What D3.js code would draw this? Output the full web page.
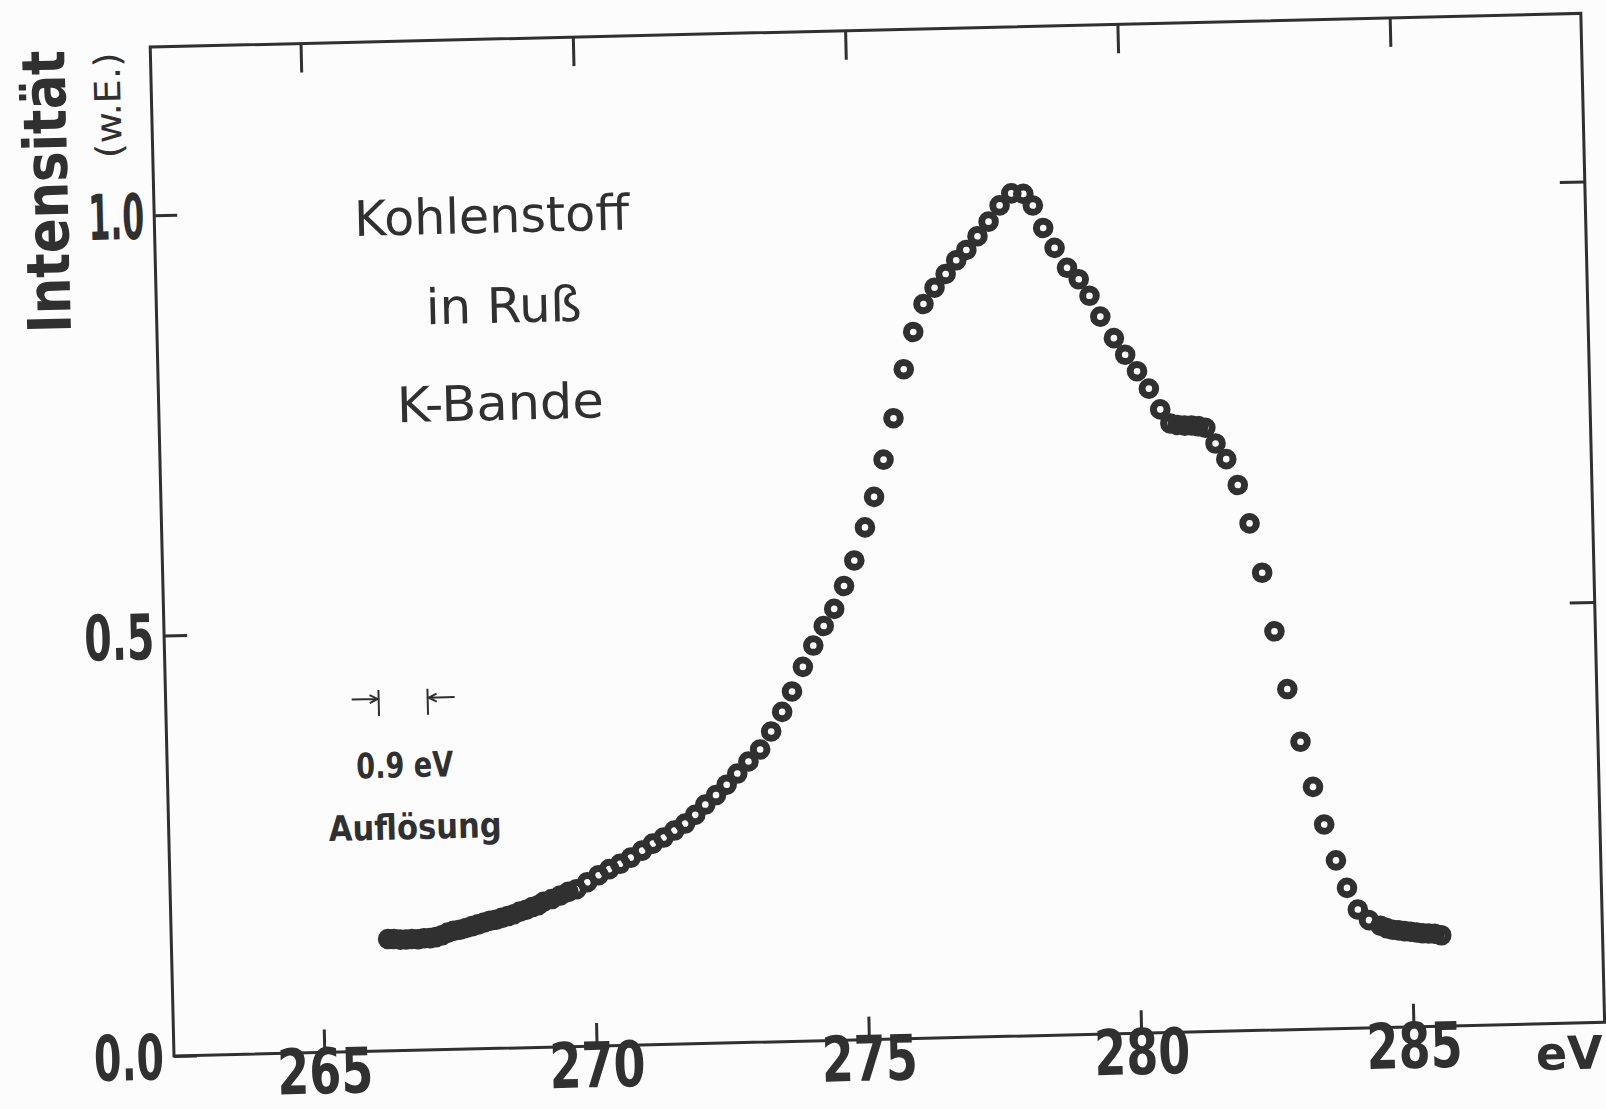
<!DOCTYPE html>
<html>
<head>
<meta charset="utf-8">
<script src="https://cdn.jsdelivr.net/npm/d3@7"></script>
<style>
  html, body { margin: 0; padding: 0; background: #fcfcfc; }
  svg { display: block; }
  .num   { font-family: "Liberation Sans Narrow", "DejaVu Sans Condensed", "DejaVu Sans", sans-serif; font-weight: bold; font-size: 63px; fill: #303030; }
  .title { font-family: "DejaVu Sans", sans-serif; font-weight: bold; font-size: 60px; fill: #303030; }
  .unit  { font-family: "DejaVu Sans", sans-serif; font-size: 36px; fill: #303030; }
  .note  { font-family: "DejaVu Sans", sans-serif; font-size: 49px; fill: #303030; }
  .res   { font-family: "Liberation Sans Narrow", "DejaVu Sans Condensed", "DejaVu Sans", sans-serif; font-weight: bold; font-size: 35px; fill: #303030; }
</style>
</head>
<body>
<svg id="chart" width="1606" height="1109"></svg>
<script>
// Carbon K emission band of soot: photon energy (eV) and relative intensity
const energy = [
  266.22, 266.33, 266.44, 266.55, 266.66, 266.77, 266.88, 266.99, 267.10, 267.21,
  267.32, 267.43, 267.54, 267.66, 267.77, 267.88, 267.99, 268.10, 268.21, 268.32,
  268.43, 268.54, 268.65, 268.77, 268.88, 268.99, 269.09, 269.24, 269.40, 269.55,
  269.70, 269.90, 270.11, 270.31, 270.51, 270.71, 270.92, 271.12, 271.32, 271.52,
  271.72, 271.91, 272.10, 272.30, 272.50, 272.70, 272.91, 273.13, 273.34, 273.55,
  273.74, 273.95, 274.15, 274.35, 274.55, 274.74, 274.94, 275.15, 275.33, 275.52,
  275.72, 275.93, 276.12, 276.32, 276.53, 276.74, 276.94, 277.13, 277.34, 277.55,
  277.76, 277.98, 278.20, 278.37, 278.55, 278.75, 278.97, 279.18, 279.37, 279.56,
  279.80, 280.00, 280.21, 280.42, 280.62, 280.80, 280.93, 281.06, 281.19, 281.31,
  281.44, 281.62, 281.81, 282.01, 282.21, 282.42, 282.62, 282.83, 283.05, 283.26,
  283.45, 283.65, 283.84, 284.03, 284.23, 284.44, 284.55, 284.66, 284.77, 284.88,
  284.99, 285.10, 285.21, 285.32, 285.43, 285.55
];
const intensity = [
  0.133, 0.133, 0.132, 0.132, 0.1325, 0.132, 0.133, 0.133, 0.134, 0.136,
  0.139, 0.141, 0.142, 0.144, 0.146, 0.148, 0.150, 0.152, 0.153, 0.155,
  0.157, 0.159, 0.162, 0.164, 0.167, 0.169, 0.173, 0.176, 0.180, 0.184,
  0.187, 0.195, 0.203, 0.210, 0.216, 0.223, 0.231, 0.239, 0.246, 0.254,
  0.262, 0.272, 0.284, 0.295, 0.307, 0.320, 0.334, 0.348, 0.369, 0.392,
  0.416, 0.445, 0.470, 0.493, 0.513, 0.540, 0.570, 0.609, 0.645, 0.689,
  0.738, 0.796, 0.840, 0.873, 0.892, 0.908, 0.924, 0.936, 0.952, 0.969,
  0.988, 1.002, 1.001, 0.987, 0.960, 0.936, 0.912, 0.898, 0.878, 0.853,
  0.827, 0.807, 0.787, 0.766, 0.741, 0.724, 0.722, 0.721, 0.721, 0.720,
  0.718, 0.699, 0.680, 0.649, 0.603, 0.544, 0.474, 0.405, 0.342, 0.288,
  0.243, 0.200, 0.167, 0.141, 0.128, 0.121, 0.118, 0.116, 0.115, 0.114,
  0.113, 0.112, 0.111, 0.1105, 0.110, 0.108
];
const xTicks = [265, 270, 275, 280, 285];
const yLabelTicks = [0.0, 0.5, 1.0];
const yMarkTicks = [0.5, 1.0];
const noteLines = ["Kohlenstoff", "in Ruß", "K-Bande"];
const resolutionEV = 0.9;
const resolutionStart = 266.15;
const resolutionLevel = 0.414;

const ink = "#303030";

const x = d3.scaleLinear().domain([262.24, 288.51]).range([174, 1605]);
const y = d3.scaleLinear().domain([0, 1.2]).range([1056, 46.8]);

const svg = d3.select("#chart");
// whole drawing sits slightly tilted on the sheet
const g = svg.append("g").attr("transform", "rotate(-1.35,174,1056)");

// frame
g.append("rect")
  .attr("x", x.range()[0]).attr("y", y(1.2))
  .attr("width", x.range()[1] - x.range()[0])
  .attr("height", y(0) - y(1.2))
  .attr("fill", "none").attr("stroke", ink).attr("stroke-width", 3);

function styleAxis(sel) {
  sel.select(".domain").remove();
  sel.attr("font-size", null).attr("font-family", null);
  sel.selectAll(".tick line").attr("stroke", ink).attr("stroke-width", 3);
}

// bottom axis: inward ticks + energy labels
const gx = g.append("g")
  .attr("transform", `translate(0,${y(0)})`)
  .call(d3.axisBottom(x).tickValues(xTicks).tickSize(-23).tickFormat(d3.format("d")));
styleAxis(gx);
gx.selectAll(".tick text")
  .attr("class", "num").attr("y", 41).attr("dy", null)
  .attr("textLength", 96).attr("lengthAdjust", "spacingAndGlyphs");

// top axis: inward ticks only
const gxt = g.append("g")
  .attr("transform", `translate(0,${y(1.2)})`)
  .call(d3.axisTop(x).tickValues(xTicks).tickSize(-29).tickFormat(""));
styleAxis(gxt);

// left axis: inward ticks + intensity labels
const gy = g.append("g")
  .attr("transform", `translate(${x.range()[0]},0)`)
  .call(d3.axisLeft(y).tickValues(yLabelTicks).tickSize(-23).tickPadding(10).tickFormat(d3.format(".1f")));
styleAxis(gy);
gy.selectAll(".tick text")
  .attr("class", "num").attr("dy", "0.36em")
  .attr("textLength", d => d === 1 ? 56 : 70).attr("lengthAdjust", "spacingAndGlyphs");

// right axis: inward ticks only
const gyr = g.append("g")
  .attr("transform", `translate(${x.range()[1]},0)`)
  .call(d3.axisRight(y).tickValues(yMarkTicks).tickSize(-25).tickFormat(""));
styleAxis(gyr);

// axis titles
g.append("text").attr("class", "num")
  .attr("x", 1569).attr("y", 1102).attr("text-anchor", "middle")
  .style("font-size", "46px")
  .attr("textLength", 67).attr("lengthAdjust", "spacingAndGlyphs")
  .text("eV");

g.append("text").attr("class", "title")
  .attr("transform", "translate(88,189.1) rotate(-90)")
  .attr("text-anchor", "middle")
  .attr("textLength", 283).attr("lengthAdjust", "spacingAndGlyphs")
  .text("Intensität");

g.append("text").attr("class", "unit")
  .attr("transform", "translate(143,104) rotate(-90)")
  .attr("text-anchor", "middle")
  .attr("textLength", 106).attr("lengthAdjust", "spacingAndGlyphs")
  .text("(w.E.)");

// sample description
const notePos = [[511.4, 240.5, 275], [521.3, 330.5, 156], [515.5, 427.7, 207]];
g.selectAll("text.note").data(noteLines).join("text")
  .attr("class", "note")
  .attr("x", (d, i) => notePos[i][0]).attr("y", (d, i) => notePos[i][1])
  .attr("text-anchor", "middle")
  .attr("textLength", (d, i) => notePos[i][2]).attr("lengthAdjust", "spacingAndGlyphs")
  .text(d => d);

// instrument resolution marker
const rx0 = x(resolutionStart), rx1 = x(resolutionStart + resolutionEV);
const ry = y(resolutionLevel);
const res = g.append("g").attr("fill", "none").attr("stroke", ink).attr("stroke-width", 2);
res.append("line").attr("x1", rx0).attr("x2", rx0).attr("y1", ry - 13).attr("y2", ry + 13);
res.append("line").attr("x1", rx1).attr("x2", rx1).attr("y1", ry - 13).attr("y2", ry + 13);
const ay = ry - 4;
res.append("path").attr("d", `M${rx0 - 27},${ay}H${rx0 - 1}M${rx0 - 9},${ay - 4}L${rx0 - 1},${ay}L${rx0 - 9},${ay + 4}`);
res.append("path").attr("d", `M${rx1 + 27},${ay}H${rx1 + 1}M${rx1 + 9},${ay - 4}L${rx1 + 1},${ay}L${rx1 + 9},${ay + 4}`);

const rmid = (rx0 + rx1) / 2;
g.append("text").attr("class", "res")
  .attr("x", rmid).attr("y", ry + 75).attr("text-anchor", "middle")
  .attr("textLength", 97).attr("lengthAdjust", "spacingAndGlyphs")
  .text(d3.format(".1f")(resolutionEV) + " eV");
g.append("text").attr("class", "res")
  .attr("x", rmid + 9).attr("y", ry + 137).attr("text-anchor", "middle")
  .attr("textLength", 173).attr("lengthAdjust", "spacingAndGlyphs")
  .text("Auflösung");

// measured points as open circles
const pts = energy.map((e, i) => ({ e, v: intensity[i] }));
g.append("g").selectAll("circle").data(pts).join("circle")
  .attr("cx", d => x(d.e)).attr("cy", d => y(d.v)).attr("r", 6.8)
  .attr("fill", "none").attr("stroke", ink).attr("stroke-width", 7);
</script>
</body>
</html>
